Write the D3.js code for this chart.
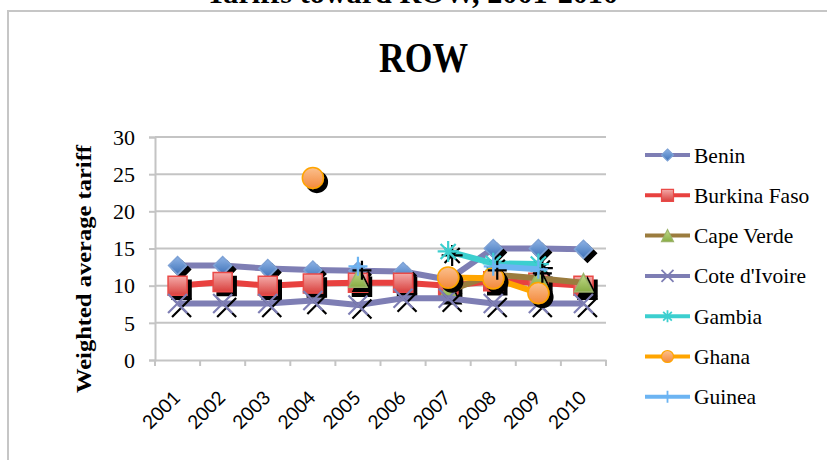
<!DOCTYPE html>
<html>
<head>
<meta charset="utf-8">
<script src="https://cdn.jsdelivr.net/npm/d3@7"></script>
<style>
  html, body { margin: 0; padding: 0; background: #fff; }
  svg { display: block; }
</style>
</head>
<body>
<script>
// Weighted average tariffs toward ROW, by country, 2001-2010
const years = ["2001","2002","2003","2004","2005","2006","2007","2008","2009","2010"];
const seriesNames = ["Benin","Burkina Faso","Cape Verde","Cote d'Ivoire","Gambia","Ghana","Guinea"];
const benin       = [12.7, 12.7, 12.3, 12.1, 12.0, 11.9, 10.8, 15.0, 15.0, 14.9];
const burkinaFaso = [10.0, 10.5, 10.0, 10.3, 10.4, 10.4, 10.0, 10.6, 10.4, 10.0];
const capeVerde   = [null, null, null, null, 11.0, null, 9.3, 11.5, 11.0, 10.4];
const coteDIvoire = [7.6, 7.6, 7.6, 8.0, 7.4, 8.3, 8.3, 7.6, 7.6, 7.6];
const gambia      = [null, null, null, null, null, null, 14.6, 13.0, 12.9, null];
const ghana       = [null, null, null, 24.5, null, null, 11.1, 11.0, 9.0, null];
const guinea      = [null, null, null, null, 12.6, null, null, 12.6, 12.2, null];
const yTicks = [0, 5, 10, 15, 20, 25, 30];

const W = 827, H = 460;
const svg = d3.select("body").append("svg").attr("width", W).attr("height", H);
const defs = svg.append("defs");

// marker shadow
const sh = defs.append("filter").attr("id", "shadow")
  .attr("x", "-50%").attr("y", "-50%").attr("width", "200%").attr("height", "200%");
sh.append("feDropShadow").attr("dx", 4).attr("dy", 4).attr("stdDeviation", 0.6)
  .attr("flood-color", "#000").attr("flood-opacity", 1);

function grad(id, top, bottom) {
  const g = defs.append("linearGradient").attr("id", id)
    .attr("x1", 0).attr("y1", 0).attr("x2", 0).attr("y2", 1);
  g.append("stop").attr("offset", "0%").attr("stop-color", top);
  g.append("stop").attr("offset", "100%").attr("stop-color", bottom);
}
grad("gBlue", "#8db3e6", "#3f72b8");
grad("gRed", "#f4aaa8", "#d9413e");
grad("gGreen", "#c3dc8a", "#88ad45");
grad("gOrange", "#fbc08e", "#f3893c");

const series = [
  { name: seriesNames[0], values: benin,       line: "#7e7eb4", shape: "diamond",  fill: "url(#gBlue)",   stroke: "#7ea2d6" },
  { name: seriesNames[1], values: burkinaFaso, line: "#e8413f", shape: "square",   fill: "url(#gRed)",    stroke: "#ea4a47" },
  { name: seriesNames[2], values: capeVerde,   line: "#9b7c3e", shape: "triangle", fill: "url(#gGreen)",  stroke: "#9cb36a" },
  { name: seriesNames[3], values: coteDIvoire, line: "#7e7eb4", shape: "x",        fill: "none",          stroke: "#7e7eb4" },
  { name: seriesNames[4], values: gambia,      line: "#3ccfcf", shape: "star",     fill: "none",          stroke: "#3ccfcf" },
  { name: seriesNames[5], values: ghana,       line: "#ffa500", shape: "circle",   fill: "url(#gOrange)", stroke: "#ffa500" },
  { name: seriesNames[6], values: guinea,      line: "#6cb4f2", shape: "plus",     fill: "none",          stroke: "#6cb4f2" }
];

// outer frame and headings
svg.append("rect").attr("x", 8).attr("y", 11).attr("width", 840).attr("height", 470)
  .attr("fill", "none").attr("stroke", "#c6c6c6").attr("stroke-width", 2);

svg.append("text").attr("x", 412).attr("y", 3).attr("text-anchor", "middle")
  .attr("font-family", "Liberation Serif").attr("font-weight", "bold").attr("font-size", 30)
  .attr("textLength", 412).attr("lengthAdjust", "spacingAndGlyphs")
  .text("Tariffs toward ROW, 2001-2010");

svg.append("text").attr("x", 423.5).attr("y", 72).attr("text-anchor", "middle")
  .attr("font-family", "Liberation Serif").attr("font-weight", "bold").attr("font-size", 43)
  .attr("textLength", 89).attr("lengthAdjust", "spacingAndGlyphs")
  .text("ROW");

// scales
const x = d3.scaleBand().domain(years).range([155, 606]);
const y = d3.scaleLinear().domain([0, 30]).range([360, 137]);
const cx = d => x(d) + x.bandwidth() / 2;

// gridlines
svg.append("g").selectAll("line").data(yTicks.filter(t => t > 0)).join("line")
  .attr("x1", 155).attr("x2", 606).attr("y1", d => y(d)).attr("y2", d => y(d))
  .attr("stroke", "#c4c4c4").attr("stroke-width", 2);

// y axis
const yAxis = svg.append("g").attr("transform", "translate(155,0)")
  .call(d3.axisLeft(y).tickValues(yTicks).tickSize(6).tickPadding(14));
yAxis.select(".domain").attr("stroke", "#c4c4c4").attr("stroke-width", 2);
yAxis.selectAll(".tick line").attr("stroke", "#c4c4c4").attr("stroke-width", 2);
yAxis.selectAll(".tick text").attr("font-family", "Liberation Serif").attr("font-size", 22)
  .attr("fill", "#000").attr("dy", "0.33em");

// x axis, ticks on the category boundaries
const xAxis = svg.append("g").attr("transform", "translate(0,360)")
  .call(d3.axisBottom(x).tickSize(0).tickFormat(""));
xAxis.select(".domain").attr("stroke", "#c4c4c4").attr("stroke-width", 2);
xAxis.append("g").selectAll("line").data(years.concat(["end"])).join("line")
  .attr("x1", (d, i) => 155 + i * x.bandwidth()).attr("x2", (d, i) => 155 + i * x.bandwidth())
  .attr("y1", 0).attr("y2", 6).attr("stroke", "#c4c4c4").attr("stroke-width", 2);
svg.append("g").selectAll("text").data(years).join("text")
  .attr("transform", d => `translate(${cx(d) + 4},${399}) rotate(-45)`)
  .attr("text-anchor", "end").attr("font-family", "Lato").attr("font-size", 19)
  .attr("fill", "#000").text(d => d);

// y axis title
svg.append("text").attr("transform", "translate(91,269) rotate(-90)")
  .attr("text-anchor", "middle").attr("font-family", "Liberation Serif").attr("font-weight", "bold")
  .attr("font-size", 22).attr("textLength", 248).attr("lengthAdjust", "spacingAndGlyphs")
  .text("Weighted average tariff");

// marker shapes
function markerPath(shape, s) {
  const h = s / 2;
  switch (shape) {
    case "diamond": return `M0,${-h}L${h},0L0,${h}L${-h},0Z`;
    case "square": return `M${-h},${-h}H${h}V${h}H${-h}Z`;
    case "triangle": return `M0,${-h}L${h},${h}H${-h}Z`;
    case "x": return `M${-h},${-h}L${h},${h}M${h},${-h}L${-h},${h}`;
    case "plus": return `M0,${-h}V${h}M${-h},0H${h}`;
    case "star": {
      const d = h * 0.72;
      return `M0,${-h}V${h}M${-d},${-d}L${d},${d}M${d},${-d}L${-d},${d}M${-h},0H${h}`;
    }
    case "circle": return d3.symbol(d3.symbolCircle, Math.PI * h * h)();
  }
}
const markerSize = { diamond: 18, square: 19, triangle: 18, x: 19, plus: 19, star: 21, circle: 21 };

const line = d3.line().defined(d => d.v != null).x(d => cx(d.year)).y(d => y(d.v));
const plot = svg.append("g");

series.forEach(s => {
  const pts = years.map((yr, i) => ({ year: yr, v: s.values[i] }));
  const g = plot.append("g");
  g.append("path").datum(pts).attr("d", line).attr("fill", "none")
    .attr("stroke", s.line).attr("stroke-width", 6).attr("stroke-linejoin", "round");
  const open = (s.shape === "x" || s.shape === "plus" || s.shape === "star");
  g.selectAll("path.mk").data(pts.filter(p => p.v != null)).join("path").attr("class", "mk")
    .attr("transform", p => `translate(${cx(p.year)},${y(p.v)})`)
    .attr("d", markerPath(s.shape, markerSize[s.shape]))
    .attr("fill", open ? "none" : s.fill)
    .attr("stroke", s.stroke).attr("stroke-width", open ? 2.2 : 1.5)
    .attr("filter", "url(#shadow)");
});

// legend
const legend = svg.append("g");
series.forEach((s, i) => {
  const ly = 155 + i * 40.3;
  const g = legend.append("g").attr("transform", `translate(0,${ly})`);
  g.append("line").attr("x1", 645).attr("x2", 690).attr("y1", 0).attr("y2", 0)
    .attr("stroke", s.line).attr("stroke-width", 4);
  const open = (s.shape === "x" || s.shape === "plus" || s.shape === "star");
  g.append("path").attr("transform", "translate(667.5,0)")
    .attr("d", markerPath(s.shape, 12))
    .attr("fill", open ? "none" : s.fill).attr("stroke", s.stroke).attr("stroke-width", open ? 1.8 : 1.2);
  g.append("text").attr("x", 694).attr("y", 7.5).attr("font-family", "Liberation Serif")
    .attr("font-size", 21.5).attr("fill", "#000").text(s.name);
});
</script>
</body>
</html>
